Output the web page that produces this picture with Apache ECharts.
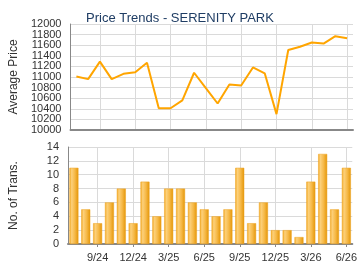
<!DOCTYPE html>
<html>
<head>
<meta charset="utf-8">
<script src="https://cdn.jsdelivr.net/npm/echarts@6/dist/echarts.min.js"></script>
<style>
  html, body { margin: 0; padding: 0; background: #fff; }
  #chart { width: 360px; height: 270px; }
</style>
</head>
<body>
<div id="chart"></div>
<script>
// months 7/24 .. 6/26
const months = ['7/24', '8/24', '9/24', '10/24', '11/24', '12/24', '1/25', '2/25', '3/25', '4/25', '5/25', '6/25',
  '7/25', '8/25', '9/25', '10/25', '11/25', '12/25', '1/26', '2/26', '3/26', '4/26', '5/26', '6/26']
const avgPrice = [11010, 10960, 11290, 10960, 11060, 11090, 11270, 10410, 10410, 10560, 11080, 10790,
  10500, 10860, 10840, 11180, 11070, 10300, 11510, 11570, 11650, 11630, 11770, 11730]
const transCount = [11, 5, 3, 6, 8, 3, 9, 4, 8, 8, 6, 5,
  4, 5, 11, 3, 6, 2, 2, 1, 9, 13, 5, 11]

const priceMin = 10000
const priceMax = 12000
const priceStep = 200

const labelFont = { color: '#333', fontSize: 11, fontFamily: 'Liberation Sans, Arial, sans-serif' }
const nameFont = { color: '#333', fontSize: 12, fontFamily: 'Liberation Sans, Arial, sans-serif' }
const gridLine = { lineStyle: { color: '#dadada', width: 1 } }
const everyThird = (i) => i % 3 === 2
// labels right next to min/max get dropped by the overlap check, so a
// second (invisible) axis draws just those two
const nextToEnds = (v) => v === priceMin + priceStep || v === priceMax - priceStep

const chart = echarts.init(document.getElementById('chart'), null, { renderer: 'canvas' })

chart.setOption({
  animation: false,
  backgroundColor: '#fff',
  title: {
    text: 'Price Trends - SERENITY PARK',
    left: 'center',
    top: 7,
    textStyle: { color: '#1f3d64', fontSize: 13, fontWeight: 'normal', fontFamily: 'Liberation Sans, Arial, sans-serif' }
  },
  grid: [
    { left: 65, right: 7, top: 24, height: 106 },
    { left: 65, right: 7, top: 147, height: 97 }
  ],
  xAxis: [
    {
      type: 'category',
      gridIndex: 0,
      data: months,
      axisLine: { lineStyle: { color: '#888', width: 2 } },
      axisTick: { show: false },
      axisLabel: { show: false },
      splitLine: { show: true, interval: everyThird, alignWithLabel: true, lineStyle: gridLine.lineStyle }
    },
    {
      type: 'category',
      gridIndex: 1,
      data: months,
      axisLine: { lineStyle: { color: '#888', width: 2 } },
      axisTick: { show: true, interval: everyThird, alignWithLabel: true, length: 3, lineStyle: { color: '#888' } },
      axisLabel: Object.assign({ interval: everyThird, margin: 8 }, labelFont),
      splitLine: { show: true, interval: everyThird, alignWithLabel: true, lineStyle: gridLine.lineStyle }
    }
  ],
  yAxis: [
    {
      type: 'value',
      gridIndex: 0,
      min: priceMin,
      max: priceMax,
      interval: priceStep,
      name: 'Average Price',
      nameLocation: 'middle',
      nameGap: 48,
      nameTextStyle: nameFont,
      axisLine: { show: true, lineStyle: { color: '#888' } },
      axisTick: { show: false },
      axisLabel: Object.assign({
        margin: 9,
        showMinLabel: true,
        showMaxLabel: true,
        formatter: (v) => nextToEnds(v) ? '' : String(v)
      }, labelFont),
      splitLine: gridLine
    },
    {
      type: 'value',
      gridIndex: 0,
      min: priceMin,
      max: priceMax,
      interval: priceStep,
      position: 'left',
      axisLine: { show: false },
      axisTick: { show: false },
      splitLine: { show: false },
      axisLabel: Object.assign({
        margin: 9,
        showMinLabel: false,
        showMaxLabel: false,
        formatter: (v) => nextToEnds(v) ? String(v) : ''
      }, labelFont)
    },
    {
      type: 'value',
      gridIndex: 1,
      min: 0,
      max: 14,
      interval: 2,
      name: 'No. of Trans.',
      nameLocation: 'middle',
      nameGap: 48,
      nameTextStyle: nameFont,
      axisLine: { show: true, lineStyle: { color: '#888' } },
      axisTick: { show: false },
      axisLabel: Object.assign({ margin: 9, showMinLabel: true, showMaxLabel: true }, labelFont),
      splitLine: gridLine
    }
  ],
  series: [
    {
      name: 'Average Price',
      type: 'line',
      xAxisIndex: 0,
      yAxisIndex: 0,
      data: avgPrice,
      symbol: 'none',
      lineStyle: { color: '#ffa500', width: 2 }
    },
    {
      name: 'No. of Trans.',
      type: 'bar',
      xAxisIndex: 1,
      yAxisIndex: 2,
      data: transCount,
      barWidth: 9,
      itemStyle: {
        color: new echarts.graphic.LinearGradient(0, 0, 1, 0, [
          { offset: 0, color: '#f3a922' },
          { offset: 0.25, color: '#fcd07a' },
          { offset: 0.6, color: '#f6b948' },
          { offset: 1, color: '#e39506' }
        ]),
        borderColor: '#eea21e',
        borderWidth: 0.5
      }
    }
  ]
})
</script>
</body>
</html>
